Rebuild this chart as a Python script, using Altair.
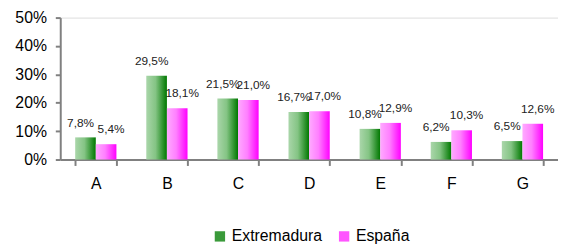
import altair as alt
import pandas as pd

categories = ["A", "B", "C", "D", "E", "F", "G"]
series = ["Extremadura", "España"]
extremadura = [7.8, 29.5, 21.5, 16.7, 10.8, 6.2, 6.5]
espana = [5.4, 18.1, 21.0, 17.0, 12.9, 10.3, 12.6]

rows = []
for c, e, s in zip(categories, extremadura, espana):
    rows.append({"cat": c, "serie": series[0], "v": e / 100, "lab": f"{e:.1f}%".replace(".", ",")})
    rows.append({"cat": c, "serie": series[1], "v": s / 100, "lab": f"{s:.1f}%".replace(".", ",")})
df = pd.DataFrame(rows)

FONT = "Liberation Sans"

green_grad = alt.Gradient(
    gradient="linear",
    stops=[alt.GradientStop(color="#aad6aa", offset=0),
           alt.GradientStop(color="#84c484", offset=0.45),
           alt.GradientStop(color="#007800", offset=1)],
    x1=0, x2=1, y1=0, y2=0)
pink_grad = alt.Gradient(
    gradient="linear",
    stops=[alt.GradientStop(color="#ffaaff", offset=0),
           alt.GradientStop(color="#ff80ff", offset=0.45),
           alt.GradientStop(color="#ff00ff", offset=1)],
    x1=0, x2=1, y1=0, y2=0)

x_enc = alt.X("cat:N", sort=categories, title=None,
              scale=alt.Scale(paddingInner=0.42, paddingOuter=0.21),
              axis=alt.Axis(labelAngle=0, labelFontSize=16, labelFont=FONT, labelColor="#000",
                            tickBand="extent", tickSize=6, tickColor="#808080",
                            domainColor="#808080", domainWidth=2, tickWidth=2,
                            labelPadding=10))
y_enc = alt.Y("v:Q", title=None,
              scale=alt.Scale(domain=[0, 0.5]),
              axis=alt.Axis(values=[0, 0.1, 0.2, 0.3, 0.4, 0.5], format=".0%",
                            labelFontSize=16, labelFont=FONT, labelColor="#000",
                            tickSize=5, tickColor="#808080", domainColor="#808080",
                            domainWidth=2, tickWidth=2, grid=False, labelPadding=9))
xo = alt.XOffset("serie:N", sort=series, scale=alt.Scale(domain=series, paddingInner=0, paddingOuter=0))

base = alt.Chart(df).encode(x=x_enc, xOffset=xo)

legend_layer = base.mark_bar(opacity=0).encode(
    y=y_enc,
    color=alt.Color("serie:N", sort=series, title=None,
                    scale=alt.Scale(domain=series, range=["#3a9a3a", "#ff55ff"]),
                    legend=alt.Legend(orient="none", direction="horizontal",
                                      legendX=154, legendY=214,
                                      labelFontSize=16, labelFont=FONT, labelColor="#000",
                                      symbolType="square", symbolSize=110, symbolOpacity=1,
                                      symbolStrokeWidth=0, columnPadding=14, labelOffset=4)))

green = base.mark_bar(color=green_grad).encode(y=y_enc).transform_filter(
    alt.datum.serie == series[0])
pink = base.mark_bar(color=pink_grad).encode(y=y_enc).transform_filter(
    alt.datum.serie == series[1])

txt_g = base.mark_text(baseline="bottom", dy=-8, dx=-5, fontSize=12, font=FONT, color="#222").encode(
    y=y_enc, text="lab:N").transform_filter(alt.datum.serie == series[0])
txt_p = base.mark_text(baseline="bottom", dy=-8, dx=5, fontSize=12, font=FONT, color="#222").encode(
    y=y_enc, text="lab:N").transform_filter(alt.datum.serie == series[1])

chart = alt.layer(legend_layer, green, pink, txt_g, txt_p).properties(
    width=505, height=144,
    padding={"left": 6, "top": 0, "right": 0, "bottom": 0},
).configure_view(stroke=None).configure(background="white")

chart.save("out.html", embed_options={"renderer": "svg", "actions": False})
